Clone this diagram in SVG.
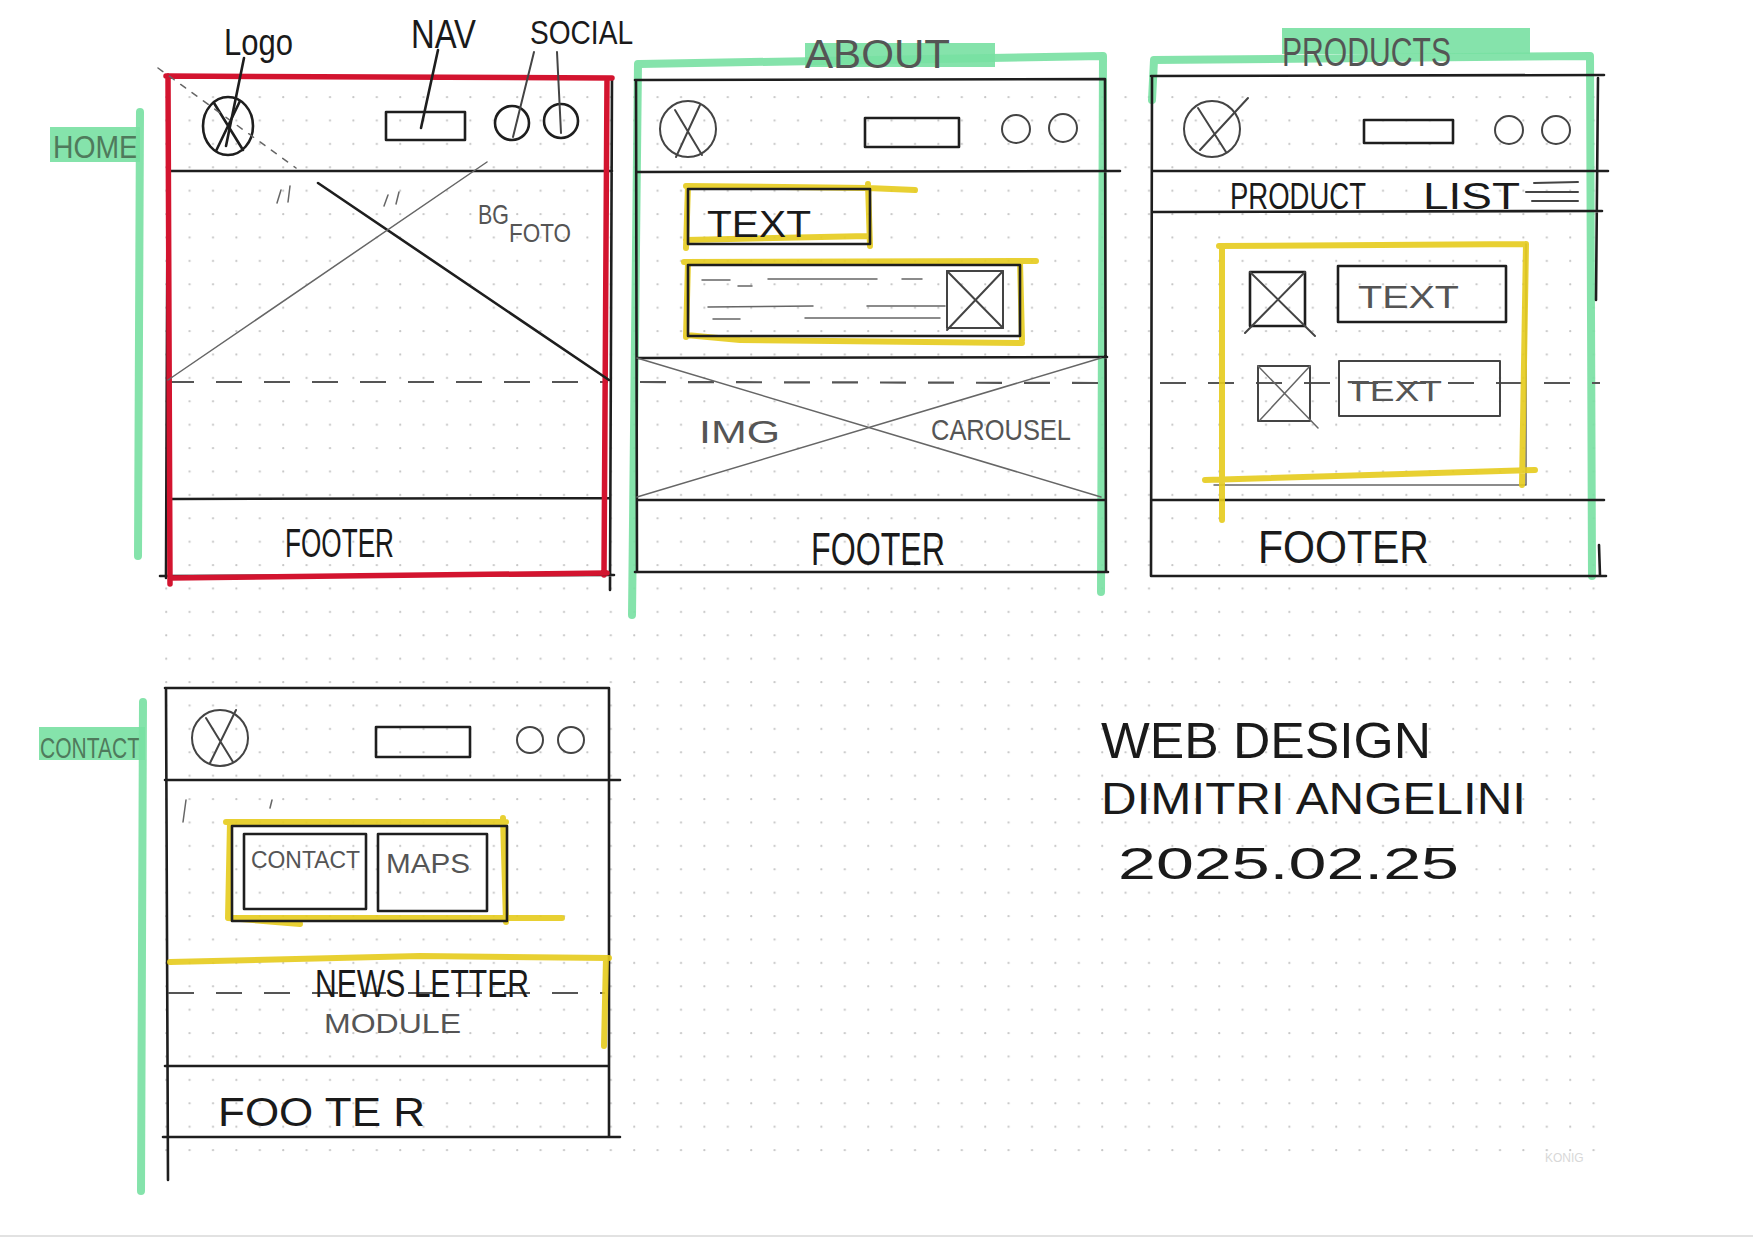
<svg xmlns="http://www.w3.org/2000/svg" width="1753" height="1240" viewBox="0 0 1753 1240">
<defs>
<pattern id="dots" x="165" y="96" width="23.4" height="23.4" patternUnits="userSpaceOnUse">
<circle cx="1.2" cy="1.2" r="1.1" fill="#c4c4c4"/>
</pattern>
</defs>
<style>
.ink{fill:none;stroke:#1e1e1e;stroke-width:2.6;stroke-linecap:round;stroke-linejoin:round}
.pen{fill:none;stroke:#444;stroke-width:2;stroke-linecap:round;stroke-linejoin:round}
.pencil{fill:none;stroke:#666;stroke-width:1.5;stroke-linecap:round}
.dash{fill:none;stroke:#555;stroke-width:2.2;stroke-dasharray:26 22}
.red{fill:none;stroke:#d3142f;stroke-width:5.5;stroke-linecap:round;stroke-linejoin:round}
.green{fill:none;stroke:#78e0a2;stroke-width:8;stroke-linecap:round;stroke-linejoin:round;opacity:0.9}
.gfill{fill:#78e0a2;opacity:0.9}
.yel{fill:none;stroke:#e6cb1c;stroke-width:6;stroke-linecap:round;stroke-linejoin:round;opacity:0.9}
.t{font-family:"Liberation Sans","DejaVu Sans",sans-serif;fill:#1a1a1a}
.tg{font-family:"Liberation Sans","DejaVu Sans",sans-serif;fill:#555}
.tl{font-family:"Liberation Sans","DejaVu Sans",sans-serif;fill:#4f7a5c}
</style>
<rect width="1753" height="1240" fill="#ffffff"/>
<rect x="160" y="90" width="1450" height="1080" fill="url(#dots)"/>
<line x1="0" y1="1236" x2="1753" y2="1236" stroke="#e2e2e2" stroke-width="2"/>

<g id="home">
<rect class="gfill" x="50" y="127" width="90" height="35"/>
<text class="tl" x="53" y="158" font-size="32" textLength="85" lengthAdjust="spacingAndGlyphs">HOME</text>
<path class="green" d="M140 112 L138 556"/>
<path class="ink" d="M168 76 L612 78 M168 76 L166 578 M612 78 L610 590 M170 171 L612 171 M172 499 L610 498 M160 576 L614 575"/>
<path class="dash" d="M168 382 L608 382"/>
<path class="red" d="M166 76 L612 78 M168 76 L170 584 M607 78 L604 575 M170 578 L607 573"/>
<ellipse class="ink" cx="228" cy="126" rx="25" ry="29"/>
<path class="ink" d="M214 103 L243 150 M240 101 L216 151"/>
<rect class="ink" x="386" y="112" width="79" height="28"/>
<circle class="ink" cx="512" cy="123" r="17"/>
<circle class="ink" cx="561" cy="121" r="17"/>
<path class="pencil" d="M158 68 L296 168" stroke-dasharray="6 8" stroke-width="2.5"/>
<path class="ink" d="M318 183 L609 380" stroke-width="2.2"/>
<path class="pencil" d="M168 380 L487 162"/>
<path class="pencil" d="M277 203 L281 190 M288 202 L290 186 M384 206 L388 195 M396 204 L399 192"/>
<text class="tg" x="478" y="224" font-size="28" textLength="31" lengthAdjust="spacingAndGlyphs">BG</text>
<text class="tg" x="509" y="242" font-size="26" textLength="62" lengthAdjust="spacingAndGlyphs">FOTO</text>
<text class="t" x="285" y="557" font-size="40" textLength="109" lengthAdjust="spacingAndGlyphs">FOOTER</text>
</g>

<g id="labels">
<text class="t" x="224" y="55" font-size="36" textLength="69" lengthAdjust="spacingAndGlyphs">Logo</text>
<text class="t" x="411" y="48" font-size="40" textLength="65" lengthAdjust="spacingAndGlyphs">NAV</text>
<text class="t" x="530" y="44" font-size="34" textLength="103" lengthAdjust="spacingAndGlyphs">SOCIAL</text>
</g>

<g id="connectors">
<path class="ink" d="M244 58 L226 146"/>
<path class="ink" d="M438 50 L421 128" stroke-width="3.5"/>
<path class="pen" d="M534 52 L513 137"/>
<path class="pen" d="M557 52 L561 133"/>
</g>

<g id="about">
<rect class="gfill" x="805" y="43" width="190" height="24"/>
<path class="green" d="M640 64 L1103 56 L1101 592 M638 64 L632 615"/>
<text class="tg" x="805" y="68" font-size="40" textLength="145" lengthAdjust="spacingAndGlyphs">ABOUT</text>
<path class="ink" d="M635 80 L1105 79 M636 80 L637 572 M1105 79 L1106 572 M637 172 L1120 171 M637 358 L1107 357 M637 500 L1105 500 M635 572 L1108 572"/>
<path class="dash" d="M640 382 L1100 383"/>
<ellipse class="pen" cx="688" cy="129" rx="28" ry="28"/>
<path class="pen" d="M675 110 L702 155 M700 105 L676 157"/>
<rect class="ink" x="865" y="118" width="94" height="29"/>
<circle class="pen" cx="1016" cy="129" r="14"/>
<circle class="pen" cx="1063" cy="128" r="14"/>
<path class="yel" d="M686 186 L868 188 L915 190 M688 186 L686 248 M868 184 L870 246 M686 240 L868 236"/>
<rect class="ink" x="688" y="189" width="182" height="55"/>
<text class="t" x="707" y="237" font-size="36" textLength="104" lengthAdjust="spacingAndGlyphs">TEXT</text>
<path class="yel" d="M684 262 L1036 261 M688 262 L686 337 M1020 262 L1022 340 M686 335 L740 340 L1022 343"/>
<rect class="ink" x="688" y="265" width="332" height="71"/>
<rect class="pen" x="947" y="271" width="56" height="57"/>
<path class="pen" d="M947 271 L1003 328 M1003 271 L947 330"/>
<path class="pencil" stroke-width="2" d="M702 280 L730 280 M768 279 L877 279 M902 279 L922 279 M738 286 L752 286 M708 307 L813 306 M867 306 L945 306 M713 319 L740 319 M805 318 L940 318"/>
<path class="pencil" d="M637 358 L1101 497 M637 497 L1101 358"/>
<text class="tg" x="699" y="443" font-size="32" textLength="81" lengthAdjust="spacingAndGlyphs">IMG</text>
<text class="tg" x="931" y="440" font-size="30" textLength="140" lengthAdjust="spacingAndGlyphs">CAROUSEL</text>
<text class="t" x="811" y="565" font-size="46" textLength="134" lengthAdjust="spacingAndGlyphs">FOOTER</text>
</g>

<g id="products">
<rect class="gfill" x="1282" y="28" width="248" height="26"/>
<path class="green" d="M1154 60 L1590 56 L1592 576 M1154 60 L1152 100"/>
<text class="tg" x="1282" y="66" font-size="40" textLength="169" lengthAdjust="spacingAndGlyphs">PRODUCTS</text>
<path class="ink" d="M1151 76 L1604 75 M1152 76 L1151 576 M1598 78 L1596 300 M1599 545 L1600 576 M1152 171 L1608 171 M1152 212 L1602 211 M1152 500 L1604 500 M1151 576 L1606 576"/>
<path class="dash" d="M1160 383 L1600 383"/>
<ellipse class="pen" cx="1212" cy="129" rx="28" ry="28"/>
<path class="pen" d="M1198 108 L1226 152 M1248 98 L1200 150"/>
<rect class="ink" x="1364" y="120" width="89" height="23"/>
<circle class="pen" cx="1509" cy="130" r="14"/>
<circle class="pen" cx="1556" cy="130" r="14"/>
<text class="t" x="1230" y="209" font-size="36" textLength="136" lengthAdjust="spacingAndGlyphs">PRODUCT</text>
<text class="t" x="1423" y="209" font-size="36" textLength="97" lengthAdjust="spacingAndGlyphs">LIST</text>
<path class="pen" d="M1534 183 L1578 182 M1526 192 L1578 192 M1532 201 L1578 201"/>
<path class="pencil" d="M1214 485 L1526 485 M1526 244 L1526 485"/>
<path class="yel" d="M1219 246 L1526 244 M1222 246 L1222 520 M1526 244 L1522 485 M1205 480 L1535 470"/>
<rect class="ink" x="1250" y="272" width="55" height="54"/>
<path class="pen" d="M1250 272 L1315 336 M1305 272 L1245 333"/>
<rect class="ink" x="1338" y="266" width="168" height="56"/>
<text class="tg" x="1358" y="308" font-size="32" textLength="101" lengthAdjust="spacingAndGlyphs">TEXT</text>
<rect class="pen" x="1258" y="366" width="52" height="55"/>
<path class="pencil" d="M1258 366 L1318 428 M1310 366 L1260 420"/>
<rect class="pen" x="1339" y="361" width="161" height="55"/>
<text class="tg" x="1347" y="401" font-size="30" textLength="95" lengthAdjust="spacingAndGlyphs">TEXT</text>
<text class="t" x="1258" y="563" font-size="46" textLength="171" lengthAdjust="spacingAndGlyphs">FOOTER</text>
</g>

<g id="contact">
<rect class="gfill" x="39" y="727" width="106" height="33"/>
<text class="tl" x="40" y="758" font-size="29" textLength="100" lengthAdjust="spacingAndGlyphs">CONTACT</text>
<path class="green" d="M143 702 L141 1191"/>
<path class="ink" d="M165 688 L609 688 M166 688 L168 1180 M609 688 L609 1137 M165 780 L620 780 M165 1066 L609 1066 M163 1137 L620 1137"/>
<path class="dash" d="M168 993 L605 993"/>
<ellipse class="pen" cx="220" cy="738" rx="28" ry="28"/>
<path class="pen" d="M206 718 L233 762 M236 710 L210 763"/>
<rect class="ink" x="376" y="727" width="94" height="30"/>
<circle class="pen" cx="530" cy="740" r="13"/>
<circle class="pen" cx="571" cy="740" r="13"/>
<path class="pencil" d="M186 800 L183 822 M270 808 L272 800"/>
<path class="yel" d="M226 822 L506 822 M230 822 L228 918 L300 924 M503 818 L506 922 M232 918 L562 918"/>
<rect class="ink" x="232" y="826" width="275" height="95"/>
<rect class="ink" x="244" y="834" width="122" height="75"/>
<text class="tg" x="251" y="868" font-size="24" textLength="109" lengthAdjust="spacingAndGlyphs">CONTACT</text>
<rect class="ink" x="378" y="834" width="109" height="77"/>
<text class="tg" x="386" y="873" font-size="28" textLength="84" lengthAdjust="spacingAndGlyphs">MAPS</text>
<path class="yel" d="M170 962 L420 956 L609 958 M606 958 L604 1046"/>
<text class="t" x="315" y="997" font-size="38" textLength="214" lengthAdjust="spacingAndGlyphs">NEWS LETTER</text>
<text class="tg" x="324" y="1033" font-size="28" textLength="137" lengthAdjust="spacingAndGlyphs">MODULE</text>
<text class="t" x="218" y="1126" font-size="40" textLength="207" lengthAdjust="spacingAndGlyphs">FOO TE R</text>
</g>

<g id="title">
<text class="t" x="1101" y="758" font-size="50" textLength="330" lengthAdjust="spacingAndGlyphs">WEB DESIGN</text>
<text class="t" x="1101" y="814" font-size="44" textLength="425" lengthAdjust="spacingAndGlyphs">DIMITRI ANGELINI</text>
<text class="t" x="1118" y="879" font-size="44" textLength="341" lengthAdjust="spacingAndGlyphs">2025.02.25</text>
<text class="tg" x="1545" y="1162" font-size="12" style="fill:#d8d8d8">KONIG</text>
</g>
</svg>
